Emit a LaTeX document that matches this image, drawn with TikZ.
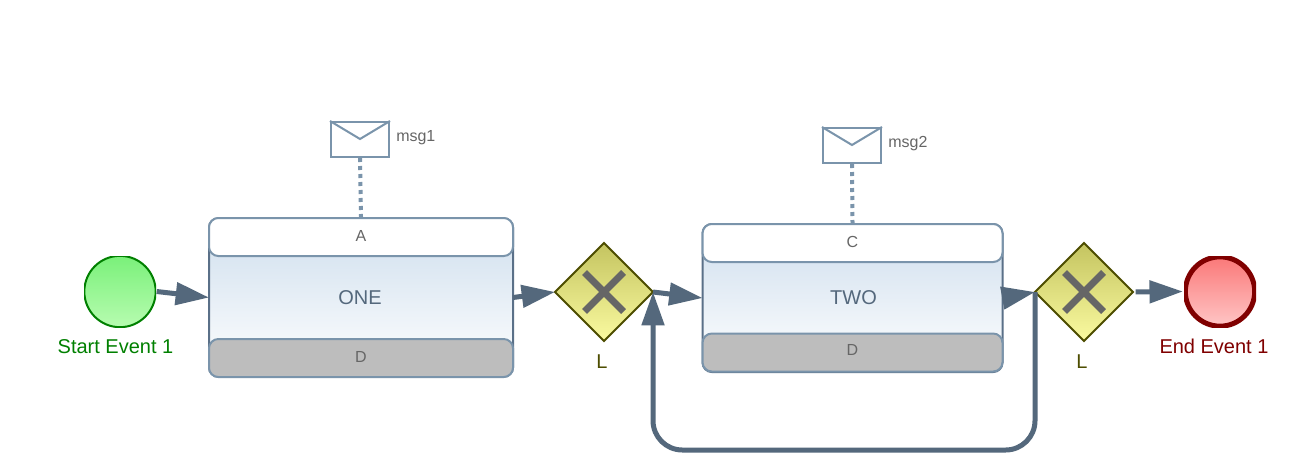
\documentclass[tikz,border=0pt]{standalone}
\usepackage{fontspec}
\setmainfont{Liberation Sans}
\usetikzlibrary{arrows.meta,shapes.geometric}
\definecolor{flowc}{HTML}{54687C}
\definecolor{edgec}{HTML}{7A94AB}
\definecolor{sidec}{HTML}{5A7088}
\definecolor{graytxt}{HTML}{666666}
\definecolor{startc}{HTML}{008000}
\definecolor{endc}{HTML}{800000}
\definecolor{gwc}{HTML}{4D4D00}
\tikzset{
  x=0.75pt,y=-0.75pt,
  flow/.style={draw=flowc,line width=3.75pt,-{Triangle[length=25pt,width=16.5pt]}},
  taskbody/.style={rectangle,rounded corners=7pt,draw=sidec,line width=1.5pt,inner sep=0pt,outer sep=0pt,
    top color={rgb,255:red,206;green,222;blue,237},bottom color=white,
    text=flowc,font=\fontsize{15}{18}\selectfont},
  taskband/.style={rectangle,rounded corners=7pt,draw=edgec,line width=1.5pt,inner sep=0pt,
    text=graytxt,font=\fontsize{12}{14}\selectfont,minimum height=28.5pt},
  headband/.style={taskband,fill=white},
  footband/.style={taskband,fill={rgb,255:red,189;green,189;blue,189}},
  envelope/.style={rectangle,draw=edgec,line width=1.5pt,fill=white,inner sep=0pt,minimum width=43.5pt,minimum height=26.25pt},
  flapline/.style={draw=edgec,line width=1.5pt},
  assoc/.style={draw=edgec,line width=3pt,dash pattern=on 3pt off 3pt},
  smalltxt/.style={text=graytxt,font=\fontsize{12}{14}\selectfont,inner sep=0pt},
  gateway/.style={diamond,aspect=1,draw=gwc,line width=1.5pt,inner sep=0pt,outer sep=0pt,minimum width=73.5pt,minimum height=73.5pt,
    top color={rgb,255:red,196;green,196;blue,96},bottom color={rgb,255:red,250;green,250;blue,160}},
  xmark/.style={draw=graytxt,line width=5.25pt},
  gwlabel/.style={text=gwc,font=\fontsize{15}{18}\selectfont,inner sep=0pt},
  startev/.style={circle,draw=startc,line width=1.5pt,inner sep=0pt,minimum size=53.5pt,
    top color={rgb,255:red,122;green,240;blue,122},bottom color={rgb,255:red,183;green,252;blue,176}},
  endev/.style={circle,draw=endc,line width=3.75pt,inner sep=0pt,minimum size=52pt,
    top color={rgb,255:red,250;green,120;blue,120},bottom color={rgb,255:red,255;green,198;blue,198}},
  evlabel/.style={font=\fontsize{15}{18}\selectfont,inner sep=0pt},
}
\begin{document}
\begin{tikzpicture}
\useasboundingbox[fill=white] (0,0) rectangle (1309,454);

% start / end events (flattened slightly by the clip, as in the picture)
\begin{scope}
  \clip (84,256) rectangle (156,327);
  \node[startev] (start) at (120,291.5) {};
\end{scope}
\begin{scope}
  \clip (1184,256) rectangle (1256,327.5);
  \node[endev] (end) at (1220,291.5) {};
\end{scope}
\node[evlabel,text=startc] (startlbl) at (115.5,347) {Start Event 1};
\node[evlabel,text=endc] (endlbl) at (1214,346.5) {End Event 1};

% message envelopes
\node[envelope] (msg1) at (360,139.5) {};
\coordinate (flap1) at (360,139);
\draw[flapline] (msg1.north west) -- (flap1) -- (msg1.north east);
\node[smalltxt,anchor=west] (msg1lbl) at (396,138) {msg1};
\node[envelope] (msg2) at (852,145.5) {};
\coordinate (flap2) at (852,145);
\draw[flapline] (msg2.north west) -- (flap2) -- (msg2.north east);
\node[smalltxt,anchor=west] (msg2lbl) at (888,144) {msg2};

% tasks
\node[taskbody,minimum width=228pt,minimum height=119pt] (one) at (361,297.5) {\raisebox{-1.5pt}{\hspace*{-1.5pt}ONE}};
\node[headband,minimum width=228pt] (onehead) at (361,237) {\raisebox{1.5pt}{A}};
\node[footband,minimum width=228pt] (onefoot) at (361,358) {\raisebox{2pt}{D}};
\node[taskbody,minimum width=225pt,minimum height=111pt] (two) at (852.5,298) {\raisebox{-1.5pt}{\hspace*{1.5pt}TWO}};
\node[headband,minimum width=225pt] (twohead) at (852.5,243) {\raisebox{1.5pt}{C}};
\node[footband,minimum width=225pt] (twofoot) at (852.5,352.5) {\raisebox{3.5pt}{D}};

\draw[assoc] (msg1.south) -- (onehead.north);
\draw[assoc] (msg2.south) -- (twohead.north);

% gateways
\node[gateway] (gw1) at (604,292) {};
\node[gateway] (gw2) at (1084,292) {};
\foreach \g in {gw1,gw2}{
  \draw[xmark] ([shift={(-19.5,-19.5)}]\g.center) -- ([shift={(19.5,19.5)}]\g.center);
  \draw[xmark] ([shift={(-19.5,19.5)}]\g.center) -- ([shift={(19.5,-19.5)}]\g.center);
}
\node[gwlabel] (gw1lbl) at (602,361.5) {L};
\node[gwlabel] (gw2lbl) at (1082,361.5) {L};

% sequence flows
\coordinate (loopy) at (850,450);
\draw[flow] (start.east) -- (one.west);
\draw[flow] (one.east) -- (gw1.west);
\draw[flow] (gw1.east) -- (two.west);
\draw[flow] (two.east) -- (gw2.west);
\draw[flow,shorten <=2pt] (gw2.east) -- (end.west);
\draw[flow,rounded corners=22pt] (gw2.west) -- (gw2.west |- loopy) -- (gw1.east |- loopy) -- (gw1.east);
\end{tikzpicture}
\end{document}
